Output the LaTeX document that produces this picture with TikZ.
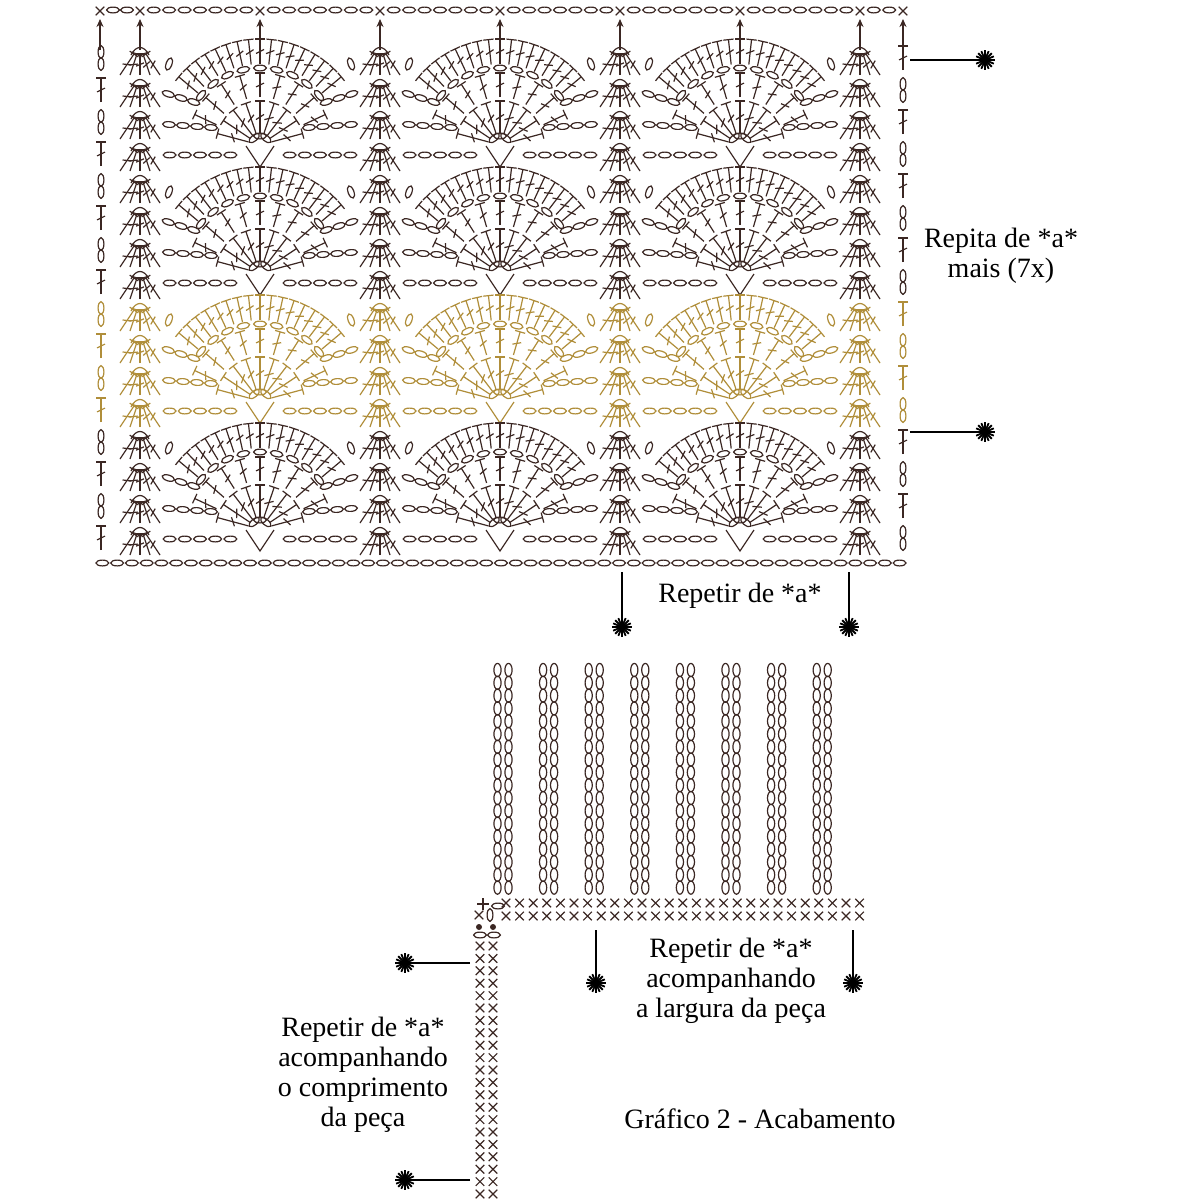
\documentclass[tikz,border=0pt]{standalone}
\usepackage{fontspec}
\setmainfont{Liberation Serif}
\usetikzlibrary{calc,arrows.meta}
\definecolor{dk}{HTML}{3B2723}
\definecolor{gd}{HTML}{B08E3A}
\newcommand\ov[3]{\draw[shift={(#1,#2)},rotate=#3] (0,0) ellipse[x radius=3.2pt,y radius=1.45pt];}
\newcommand\chn[5]{\pgfmathsetmacro\cang{atan2(-(#4-(#2)),#3-(#1))}%
 \foreach \i in {1,...,#5}{\pgfmathsetmacro\ct{(\i-0.5)/#5}%
 \pgfmathsetmacro\cxx{#1+\ct*(#3-(#1))}\pgfmathsetmacro\cyy{#2+\ct*(#4-(#2))}%
 \ov{\cxx}{\cyy}{\cang}}}
\newcommand\trs[4]{\draw (#1,#2)--(#3,#4);
 \draw ($(#3,#4)!2.6pt!90:(#1,#2)$)--($(#3,#4)!2.6pt!-90:(#1,#2)$);
 \draw ($(#1,#2)!0.42!(#3,#4)!2pt!90:(#3,#4)$)--($(#1,#2)!0.58!(#3,#4)!2pt!-90:(#3,#4)$);}
\newcommand\xx[2]{\draw ({#1-4.3},{#2-4.3})--({#1+4.3},{#2+4.3}) ({#1-4.3},{#2+4.3})--({#1+4.3},{#2-4.3});}
\newcommand\burst[3]{\coordinate (#1) at (#2,#3);
 \foreach \a in {0,22.5,...,337.5}{\draw[line width=0.9pt] (#1)--++(\a:4.8pt);}\fill (#1) circle (1.9pt);}
\begin{document}
\begin{tikzpicture}[x=0.5pt,y=-0.5pt,line width=0.6pt,
  txt/.style={font=\fontsize{14}{15}\selectfont,align=center,text=black},
  ln/.style={line width=0.8pt,black}]
\useasboundingbox (0,0) rectangle (1200,1200);
\fill[white] (0,0) rectangle (1200,1200);
% ---------- top chart ----------
\begin{scope}[dk]
\foreach \x in {100,140,260,380,500,620,740,860,903}{
  \draw[line width=0.9pt,-{Stealth[length=4pt,width=3.5pt]}] (\x,50)--(\x,19);
  \xx{\x}{11}}
\foreach \a/\b in {100/140,140/260,260/380,380/500,500/620,620/740,740/860,860/903}{
  \pgfmathsetmacro\nn{int(round((\b-\a-10)/15))}
  \chn{\a+6}{10}{\b-6}{10}{\nn}}
\chn{95}{563}{907}{563}{55}
\end{scope}
\foreach \g in {0,1,2,3}{
 \ifnum\g=2 \def\col{gd}\else\def\col{dk}\fi
 \begin{scope}[color=\col]
 \pgfmathsetmacro\yo{42+128*\g}
 \foreach \r in {0,1,2,3}{
   \pgfmathsetmacro\yc{\yo+32*\r+16}
   \pgfmathsetmacro\ya{\yc-6}\pgfmathsetmacro\yb{\yc+6}
   \pgfmathsetmacro\yt{\yc-12}\pgfmathsetmacro\yl{\yc+12}
   \ifodd\r
     \trs{101}{\yl}{101}{\yt}
     \ov{903}{\ya}{90}\ov{903}{\yb}{90}
   \else
     \ov{101}{\ya}{90}\ov{101}{\yb}{90}
     \trs{903}{\yl}{903}{\yt}
   \fi
   \foreach \xs in {140,380,620,860}{
     \pgfmathsetmacro\tt{\yo+32*\r+3}
     \pgfmathsetmacro\rg{\tt+6}
     \draw (\xs-9,\tt+10) .. controls (\xs-4,\tt) and (\xs+4,\tt) .. (\xs+9,\tt+10);
     \foreach \d in {-20,-10,0,10,20}{
       \pgfmathsetmacro\bx{\xs+\d}\pgfmathsetmacro\by{\tt+30}
       \pgfmathsetmacro\tx{\xs+0.3*\d}\pgfmathsetmacro\ty{\tt+9}
       \trs{\bx}{\by}{\tx}{\ty}}}}
 \foreach \cx in {260,500,740}{
   \pgfmathsetmacro\cy{\yo+103}
   \foreach \a in {50,90,130}{\pgfmathsetmacro\px{\cx+9*cos(\a)}\pgfmathsetmacro\py{\cy-9*sin(\a)}\ov{\px}{\py}{\a-90}}
   \draw (\cx-14,\cy+1)--(\cx,\cy+22)--(\cx+14,\cy+1);
   \foreach \a in {15,33.75,...,166}{
     \pgfmathsetmacro\bx{\cx+12*cos(\a)}\pgfmathsetmacro\by{\cy-12*sin(\a)}
     \pgfmathsetmacro\tx{\cx+44*cos(\a)}\pgfmathsetmacro\ty{\cy-44*sin(\a)}
     \trs{\bx}{\by}{\tx}{\ty}}
   \foreach \a in {25,41.25,...,156}{
     \pgfmathsetmacro\bx{\cx+48*cos(\a)}\pgfmathsetmacro\by{\cy-48*sin(\a)}
     \pgfmathsetmacro\tx{\cx+72*cos(\a)}\pgfmathsetmacro\ty{\cy-72*sin(\a)}
     \trs{\bx}{\by}{\tx}{\ty}}
   \foreach \a in {40,52.5,...,141}{\pgfmathsetmacro\px{\cx+77*cos(\a)}\pgfmathsetmacro\py{\cy-77*sin(\a)}\ov{\px}{\py}{\a-90}}
   \foreach \a in {40,46.25,...,141}{
     \pgfmathsetmacro\bx{\cx+81*cos(\a)}\pgfmathsetmacro\by{\cy-81*sin(\a)}
     \pgfmathsetmacro\tx{\cx+106*cos(\a)}\pgfmathsetmacro\ty{\cy-106*sin(\a)}
     \trs{\bx}{\by}{\tx}{\ty}}
   \chn{\cx-98}{\yo+50}{\cx-60}{\yo+62}{3}
   \chn{\cx+60}{\yo+62}{\cx+98}{\yo+50}{3}
   \chn{\cx-98}{\yo+82}{\cx-42}{\yo+86}{4}
   \chn{\cx+42}{\yo+86}{\cx+98}{\yo+82}{4}
   \chn{\cx-98}{\yo+113}{\cx-22}{\yo+113}{5}
   \chn{\cx+22}{\yo+113}{\cx+98}{\yo+113}{5}
   \ov{\cx-91}{\yo+22}{70}\ov{\cx+91}{\yo+22}{-70}}
 \end{scope}}
\burst{s1}{985}{60}\burst{s2}{985}{432}
\coordinate (e1) at (910,60);\coordinate (e2) at (910,432);
\draw[ln] (e1)--(s1);\draw[ln] (e2)--(s2);
\node[txt] (t1) at (1001,256) {Repita de *a*\\mais (7x)};
\burst{s3}{622}{627}\burst{s4}{849}{627}
\coordinate (b3) at (622,572);\coordinate (b4) at (849,572);
\draw[ln] (b3)--(s3);\draw[ln] (b4)--(s4);
\node[txt] (t2) at (740,596) {Repetir de *a*};
% ---------- lower chart ----------
\begin{scope}[dk]
\foreach \i in {0,...,7}{
  \pgfmathsetmacro\sx{503+45.6*\i}
  \foreach \k in {0,...,17}{
    \pgfmathsetmacro\sy{670+12.8*\k}
    \draw[shift={(\sx-5.5,\sy)}] (0,0) ellipse[x radius=1.8pt,y radius=3.3pt];
    \draw[shift={(\sx+5.5,\sy)}] (0,0) ellipse[x radius=1.8pt,y radius=3.3pt];}}
\foreach \k in {0,...,26}{\pgfmathsetmacro\qx{506+13.6*\k}\xx{\qx}{903}\xx{\qx}{916}}
\foreach \k in {0,...,20}{\pgfmathsetmacro\qy{946+12.4*\k}\xx{480}{\qy}\xx{493}{\qy}}
\draw (483,898)--(483,910) (477,904)--(489,904);
\xx{479}{915}\ov{490}{915}{90}\ov{498}{906}{0}
\fill (479,927) circle (1.5pt) (493,927) circle (1.5pt);
\ov{480}{935}{0}\ov{494}{935}{0}
\end{scope}
\burst{s5}{596}{983}\burst{s6}{853}{983}
\coordinate (c5) at (596,930);\coordinate (c6) at (853,930);
\draw[ln] (c5)--(s5);\draw[ln] (c6)--(s6);
\burst{s7}{405}{963}\burst{s8}{405}{1180}
\coordinate (c7) at (470,963);\coordinate (c8) at (470,1180);
\draw[ln] (c7)--(s7);\draw[ln] (c8)--(s8);
\node[txt] (t3) at (731,981) {Repetir de *a*\\acompanhando\\a largura da peça};
\node[txt] (t4) at (363,1075) {Repetir de *a*\\acompanhando\\o comprimento\\da peça};
\node[txt] (t5) at (760,1119) {Gráfico 2 - Acabamento};
\end{tikzpicture}
\end{document}
